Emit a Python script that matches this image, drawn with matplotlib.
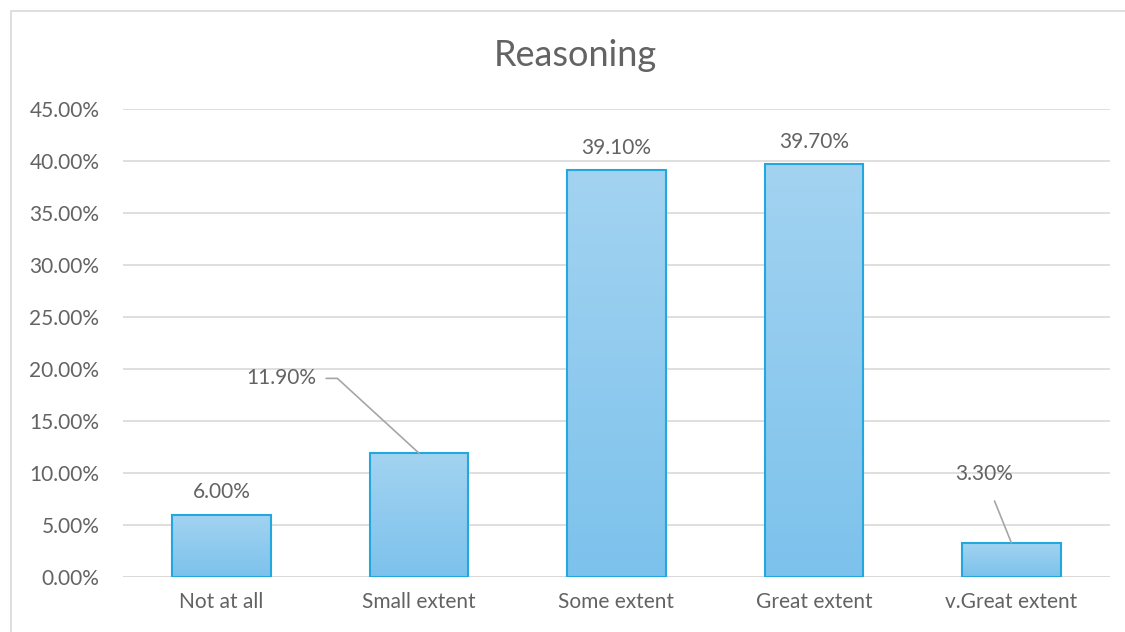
import matplotlib.pyplot as plt
import numpy as np
from matplotlib.patches import Rectangle
from matplotlib.colors import LinearSegmentedColormap

categories = ["Not at all", "Small extent", "Some extent", "Great extent", "v.Great extent"]
values = [6.0, 11.9, 39.1, 39.7, 3.3]
labels = ["6.00%", "11.90%", "39.10%", "39.70%", "3.30%"]
yticks = [0, 5, 10, 15, 20, 25, 30, 35, 40, 45]

plt.rcParams['font.family'] = ['Lato', 'DejaVu Sans']
grey = "#636363"
fs = 15

fig = plt.figure(figsize=(11.25, 6.32), dpi=100)
ax = fig.add_axes([0.1093, 0.087, 0.8774, 0.7405])

x = np.arange(len(categories))
bars = ax.bar(x, values, width=0.5, color="none", edgecolor="#22A8DF", linewidth=1.5, zorder=3)

# vertical gradient inside each bar
grad = np.linspace(0, 1, 256).reshape(-1, 1)
cmap = LinearSegmentedColormap.from_list("g", ["#7CC2EC", "#A3D3F1"])
for b in bars:
    bx, by = b.get_x(), b.get_y()
    w, h = b.get_width(), b.get_height()
    im = ax.imshow(grad, extent=[bx, bx + w, by, by + h], origin="lower",
                   cmap=cmap, aspect="auto", zorder=2)
    im.set_clip_path(b)

ax.set_xlim(-0.5, len(categories) - 0.5)
ax.set_ylim(0, 45)
ax.set_yticks(yticks)
ax.set_yticklabels(["%.2f%%" % t for t in yticks])
ax.set_xticks(x)
ax.set_xticklabels(categories)
ax.tick_params(length=0, colors=grey, labelsize=fs, pad=11)
ax.tick_params(axis="y", pad=17)
ax.grid(axis="y", color="#D9D9D9", linewidth=1.2, zorder=0)
for s in ax.spines.values():
    s.set_visible(False)
ax.axhline(0, color="#D9D9D9", linewidth=1.2, zorder=1)

# data labels
for i in [0, 2, 3]:
    ax.annotate(labels[i], (x[i], values[i]), xytext=(0, 9), textcoords="offset points",
                ha="center", va="bottom", color=grey, fontsize=fs)
ax.annotate(labels[1], xy=(x[1], values[1]), xytext=(x[1] - 0.52, 19.1),
            ha="right", va="center", color=grey, fontsize=fs,
            arrowprops=dict(arrowstyle="-", color="#A6A6A6", lw=1.2,
                            connectionstyle="angle,angleA=0,angleB=-42.5,rad=0",
                            shrinkA=5, shrinkB=0))
ax.annotate(labels[4], xy=(x[4], values[4]), xytext=(x[4] - 0.14, 9.9),
            ha="center", va="center", color=grey, fontsize=fs,
            arrowprops=dict(arrowstyle="-", color="#A6A6A6", lw=1.2,
                            shrinkA=11, shrinkB=0))

fig.text(0.511, 0.912, "Reasoning", ha="center", va="center", color=grey, fontsize=26)

# chart area border
fig.patches.append(Rectangle((11 / 1125, -0.01), 1.1, 1 - 11 / 632 + 0.01,
                             transform=fig.transFigure, fill=False,
                             edgecolor="#D9D9D9", linewidth=1.2))

fig.savefig("out.png", dpi=100)
